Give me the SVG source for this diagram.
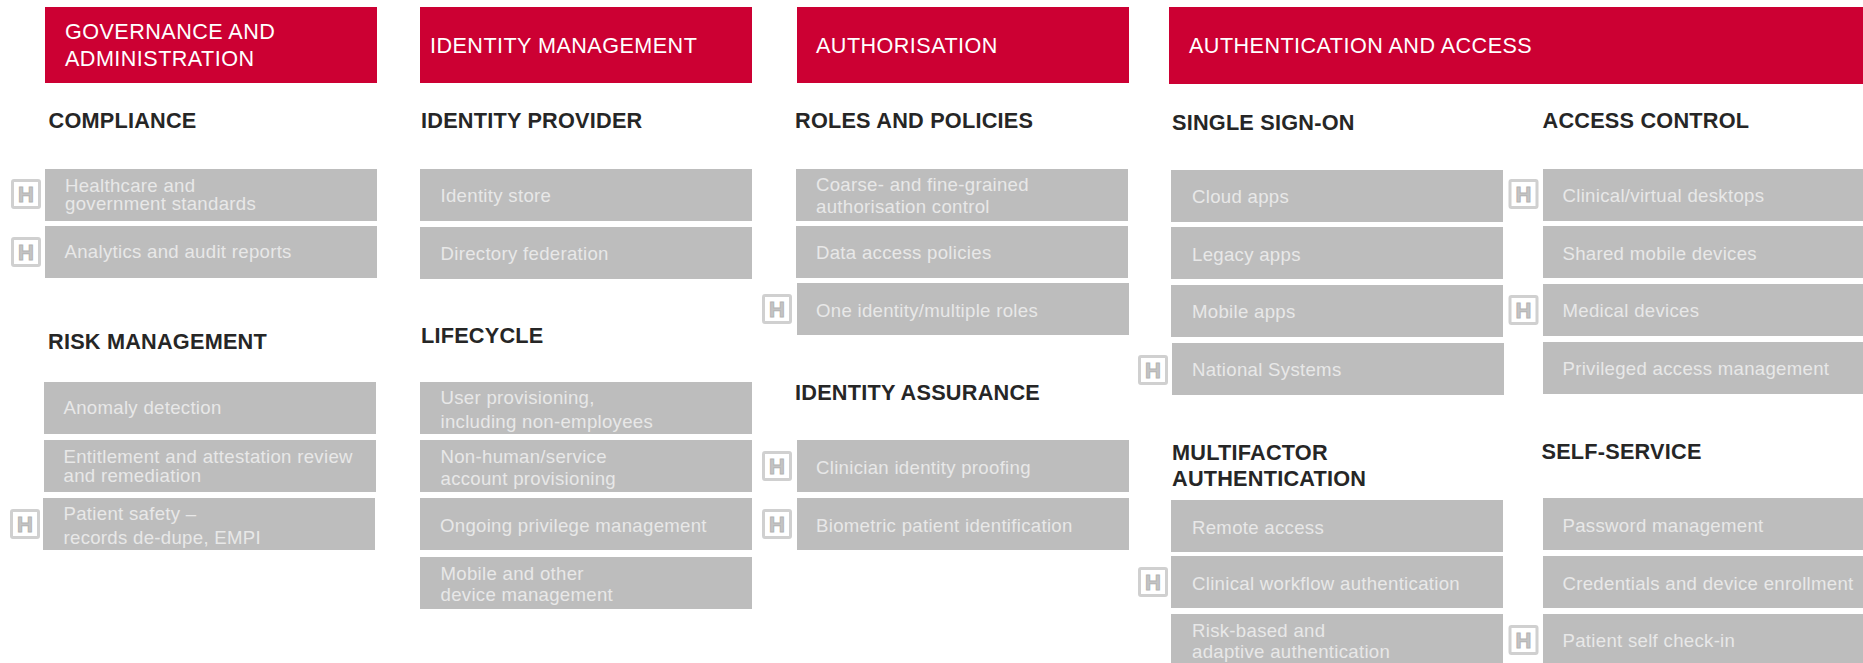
<svg xmlns="http://www.w3.org/2000/svg" width="1863" height="663" viewBox="0 0 1863 663">
<style>
text{font-family:"Liberation Sans",Arial,sans-serif}
.hd{fill:#cc0033}
.bx{fill:#bdbdbd}
.ht{fill:#fff;font-size:21.6px;letter-spacing:.45px}
.sh{fill:#262626;font-size:21.7px;font-weight:700;letter-spacing:.22px}
.tx{fill:#e8e8e8;font-size:18.6px;letter-spacing:.3px}
.ib{fill:#fff;stroke:#d0d0d0;stroke-width:3}
.ih{fill:#c4c4c4;stroke:#b4b4b4;stroke-width:1;font-size:22px;font-weight:700;text-anchor:middle}
</style>
<defs>
<g id="hicon"><rect class="ib" x="1.5" y="1.5" width="27" height="27" rx="1.5"/><text class="ih" x="15" y="22.8">H</text></g>
</defs>
<g id="h-governance"><rect class="hd" x="45" y="7" width="332" height="76"/><text class="ht" x="65" y="38.5">GOVERNANCE AND</text><text class="ht" x="65" y="66">ADMINISTRATION</text></g>
<g id="h-identity"><rect class="hd" x="420" y="7" width="332" height="76"/><text class="ht" x="430" y="53">IDENTITY MANAGEMENT</text></g>
<g id="h-authorisation"><rect class="hd" x="797" y="7" width="332" height="76"/><text class="ht" x="816" y="53">AUTHORISATION</text></g>
<g id="h-authentication"><rect class="hd" x="1169" y="7" width="694" height="77"/><text class="ht" x="1189" y="53">AUTHENTICATION AND ACCESS</text></g>

<g id="s-compliance"><text class="sh" x="48.5" y="128">COMPLIANCE</text></g>
<g id="s-idp"><text class="sh" x="421" y="128">IDENTITY PROVIDER</text></g>
<g id="s-roles"><text class="sh" x="795" y="128">ROLES AND POLICIES</text></g>
<g id="s-sso"><text class="sh" x="1172" y="130">SINGLE SIGN-ON</text></g>
<g id="s-access"><text class="sh" x="1542.5" y="128">ACCESS CONTROL</text></g>
<g id="s-risk"><text class="sh" x="48" y="349">RISK MANAGEMENT</text></g>
<g id="s-lifecycle"><text class="sh" x="421" y="343">LIFECYCLE</text></g>
<g id="s-assurance"><text class="sh" x="795" y="399.5">IDENTITY ASSURANCE</text></g>
<g id="s-mfa"><text class="sh" x="1172" y="459.5">MULTIFACTOR</text><text class="sh" x="1172" y="486">AUTHENTICATION</text></g>
<g id="s-self"><text class="sh" x="1541.5" y="459">SELF-SERVICE</text></g>

<g id="n-healthcare"><rect class="bx" x="45" y="169" width="332" height="52"/><text class="tx" x="65" y="192">Healthcare and</text><text class="tx" x="65" y="210">government standards</text><use href="#hicon" x="11" y="179"/></g>
<g id="n-analytics"><rect class="bx" x="45" y="226" width="332" height="52"/><text class="tx" x="64.5" y="258">Analytics and audit reports</text><use href="#hicon" x="11" y="237"/></g>
<g id="n-anomaly"><rect class="bx" x="44" y="382" width="332" height="52"/><text class="tx" x="63.5" y="414">Anomaly detection</text></g>
<g id="n-entitlement"><rect class="bx" x="44" y="440" width="332" height="52"/><text class="tx" x="63.5" y="463">Entitlement and attestation review</text><text class="tx" x="63.5" y="482">and remediation</text></g>
<g id="n-patient-safety"><rect class="bx" x="43" y="498" width="332" height="52"/><text class="tx" x="63.5" y="520">Patient safety –</text><text class="tx" x="63.5" y="544">records de-dupe, EMPI</text><use href="#hicon" x="10" y="509"/></g>

<g id="n-store"><rect class="bx" x="420" y="169" width="332" height="52"/><text class="tx" x="440.5" y="202">Identity store</text></g>
<g id="n-directory"><rect class="bx" x="420" y="227" width="332" height="52"/><text class="tx" x="440.5" y="259.5">Directory federation</text></g>
<g id="n-user"><rect class="bx" x="420" y="382" width="332" height="52"/><text class="tx" x="440.5" y="404">User provisioning,</text><text class="tx" x="440.5" y="428">including non-employees</text></g>
<g id="n-nonhuman"><rect class="bx" x="420" y="440" width="332" height="52"/><text class="tx" x="440.5" y="463">Non-human/service</text><text class="tx" x="440.5" y="485">account provisioning</text></g>
<g id="n-ongoing"><rect class="bx" x="420" y="498" width="332" height="52"/><text class="tx" x="440" y="532">Ongoing privilege management</text></g>
<g id="n-mobile-device"><rect class="bx" x="420" y="557" width="332" height="52"/><text class="tx" x="440.5" y="580">Mobile and other</text><text class="tx" x="440.5" y="601">device management</text></g>

<g id="n-coarse"><rect class="bx" x="796" y="169" width="332" height="52"/><text class="tx" x="816" y="191">Coarse- and fine-grained</text><text class="tx" x="816" y="213">authorisation control</text></g>
<g id="n-data"><rect class="bx" x="796" y="226" width="332" height="52"/><text class="tx" x="816" y="259">Data access policies</text></g>
<g id="n-one"><rect class="bx" x="797" y="283" width="332" height="52"/><text class="tx" x="816" y="317">One identity/multiple roles</text><use href="#hicon" x="762" y="294"/></g>
<g id="n-clinician"><rect class="bx" x="797" y="440" width="332" height="52"/><text class="tx" x="816" y="474">Clinician identity proofing</text><use href="#hicon" x="762" y="451"/></g>
<g id="n-biometric"><rect class="bx" x="797" y="498" width="332" height="52"/><text class="tx" x="816" y="532">Biometric patient identification</text><use href="#hicon" x="762" y="509"/></g>

<g id="n-cloud"><rect class="bx" x="1171" y="170" width="332" height="52"/><text class="tx" x="1192" y="203">Cloud apps</text></g>
<g id="n-legacy"><rect class="bx" x="1171" y="227" width="332" height="52"/><text class="tx" x="1192" y="261">Legacy apps</text></g>
<g id="n-mobile-apps"><rect class="bx" x="1171" y="285" width="332" height="52"/><text class="tx" x="1192" y="318">Mobile apps</text></g>
<g id="n-national"><rect class="bx" x="1172" y="343" width="332" height="52"/><text class="tx" x="1192" y="376">National Systems</text><use href="#hicon" x="1138" y="355"/></g>
<g id="n-remote"><rect class="bx" x="1171" y="500" width="332" height="52"/><text class="tx" x="1192" y="534">Remote access</text></g>
<g id="n-workflow"><rect class="bx" x="1171" y="556" width="332" height="52"/><text class="tx" x="1192" y="590">Clinical workflow authentication</text><use href="#hicon" x="1138" y="567"/></g>
<g id="n-risk-based"><rect class="bx" x="1171" y="614" width="332" height="52"/><text class="tx" x="1192" y="637">Risk-based and</text><text class="tx" x="1192" y="658">adaptive authentication</text></g>

<g id="n-desktops"><rect class="bx" x="1543" y="169" width="320" height="52"/><text class="tx" x="1562.5" y="202">Clinical/virtual desktops</text><use href="#hicon" x="1508.5" y="179"/></g>
<g id="n-shared"><rect class="bx" x="1543" y="226" width="320" height="52"/><text class="tx" x="1562.5" y="260">Shared mobile devices</text></g>
<g id="n-medical"><rect class="bx" x="1543" y="284" width="320" height="52"/><text class="tx" x="1562.5" y="317">Medical devices</text><use href="#hicon" x="1508.5" y="295"/></g>
<g id="n-privileged"><rect class="bx" x="1543" y="342" width="320" height="52"/><text class="tx" x="1562.5" y="375">Privileged access management</text></g>
<g id="n-password"><rect class="bx" x="1543" y="498" width="320" height="52"/><text class="tx" x="1562.5" y="532">Password management</text></g>
<g id="n-credentials"><rect class="bx" x="1543" y="556" width="320" height="52"/><text class="tx" x="1562.5" y="590">Credentials and device enrollment</text></g>
<g id="n-checkin"><rect class="bx" x="1543" y="614" width="320" height="52"/><text class="tx" x="1562.5" y="647">Patient self check-in</text><use href="#hicon" x="1508.5" y="625"/></g>
</svg>
